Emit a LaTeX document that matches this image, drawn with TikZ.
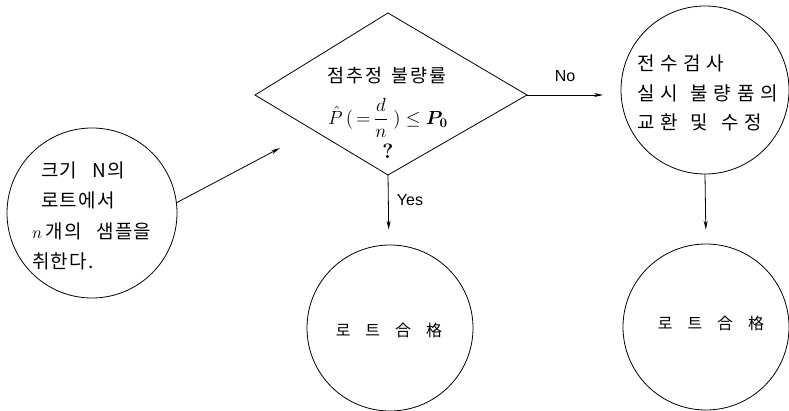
\documentclass[tikz,border=0pt]{standalone}
\usepackage{amsmath,amssymb}
\usepackage{fontspec}
\usetikzlibrary{arrows.meta}
\newfontfamily\kr[LetterSpace=6,WordSpace=2.8]{Noto Sans CJK KR}
\newfontfamily\krmid[LetterSpace=10,WordSpace=1.5]{Noto Sans CJK KR}
\newfontfamily\krwide[LetterSpace=30,WordSpace=1.3]{Noto Sans CJK KR}
\newfontfamily\krplain{Noto Sans CJK KR}
\setsansfont{Liberation Sans}
\begin{document}
\begin{tikzpicture}[x=1pt,y=-1pt,
  every node/.style={inner sep=0pt},
  blob/.style={draw, circle, minimum size=170pt, line width=0.8pt},
  edge/.style={line width=0.8pt},
  link/.style={line width=0.8pt, -{Stealth[length=9pt,width=4pt]}},
  krtext/.style={font=\kr\fontsize{19}{30.5}\selectfont, align=left, anchor=west},
  krwidetext/.style={font=\krwide\fontsize{19}{29.5}\selectfont, align=left, anchor=west},
  hanja/.style={font=\krplain\fontsize{16}{18}\selectfont},
  tag/.style={font=\sffamily\fontsize{16}{18}\selectfont}]
\useasboundingbox (0,0) rectangle (789,411);

% circles
\node[blob] (lc) at (92,213) {};
\node[blob, minimum size=168pt] (tr) at (705,90) {};
\node[blob, minimum size=166pt] (lm) at (390,328) {};
\node[blob, minimum size=166pt] (rm) at (706,327) {};

% circle texts
\node[krtext] (lct) at (32,216) {\hspace*{9pt}크기 N의\\\hspace*{9pt}로트에서\\$n$\,개의 샘플을\\취한다.};
\node[krwidetext] (trt) at (637,93) {전수검사\\실시 불량품의\\교환 및 수정};
\node[hanja] (lmt) at (389,330) {로\hspace{15pt}트\hspace{15pt}合\hspace{15pt}格};
\node[hanja] (rmt) at (711,323) {로\hspace{15pt}트\hspace{15pt}合\hspace{15pt}格};

% decision diamond
\coordinate (dL) at (255,95);
\coordinate (dT) at (388,13);
\coordinate (dR) at (527,95);
\coordinate (dB) at (388,175);
\draw[edge] (dL) -- (dT) -- (dR) -- (dB) -- cycle;
\node[font=\krmid\fontsize{18.5}{20}\selectfont] (q1) at (387,76) {점추정 불량률};
\node[font=\fontsize{14.4}{17}\selectfont, scale=1.32, transform shape] (q2) at (388,118) {$\displaystyle\hat{P}\,(\,{=}\,\frac{d}{n}\;)\leq\boldsymbol{P_0}$};
\node[font=\bfseries\fontsize{20.74}{24}\selectfont] (q3) at (388,151) {?};

% connectors
\coordinate (inTip) at (280,148);
\draw[link] (lc.7) -- (inTip);
\coordinate (noTip) at (603,95);
\draw[link] (dR) -- (noTip);
\node[tag] (no) at (565,76) {No};
\draw[link, shorten >=15pt] (dB) -- (lm);
\node[tag] (yes) at (410,200) {Yes};
\draw[link, shorten >=14pt] (tr.south) -- (rm.north);
\end{tikzpicture}
\end{document}
